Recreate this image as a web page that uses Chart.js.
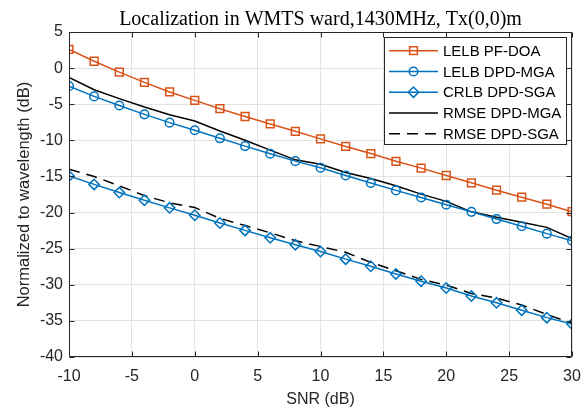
<!DOCTYPE html>
<html>
<head>
<meta charset="utf-8">
<script src="https://cdn.jsdelivr.net/npm/chart.js@4/dist/chart.umd.min.js"></script>
<style>
  html, body { margin: 0; padding: 0; background: #fff; }
  #wrap { width: 587px; height: 410px; position: relative; }
</style>
</head>
<body>
<div id="wrap"><canvas id="snrChart"></canvas></div>
<script>
// values, one point every 2 dB
const snrDb = [-10, -8, -6, -4, -2, 0, 2, 4, 6, 8, 10, 12, 14, 16, 18, 20, 22, 24, 26, 28, 30];
const lelbPfDoa = [2.6, 0.95, -0.55, -1.97, -3.3, -4.47, -5.62, -6.7, -7.73, -8.75, -9.8, -10.85, -11.83, -12.9, -13.85, -14.87, -15.88, -16.9, -17.87, -18.84, -19.88];
const lelbDpdMga = [-2.5, -3.92, -5.18, -6.4, -7.55, -8.6, -9.72, -10.8, -11.86, -12.88, -13.8, -14.86, -15.91, -16.93, -17.92, -18.91, -19.9, -20.9, -21.9, -22.92, -23.9];
const crlbDpdSga = [-14.95, -16.1, -17.23, -18.3, -19.35, -20.37, -21.45, -22.47, -23.5, -24.45, -25.4, -26.45, -27.43, -28.5, -29.5, -30.45, -31.55, -32.5, -33.52, -34.55, -35.42];
const rmseDpdMga = [-1.28, -3.0, -4.22, -5.38, -6.45, -7.32, -8.7, -9.98, -11.35, -12.7, -13.3, -14.45, -15.28, -16.28, -17.45, -18.45, -19.9, -20.65, -21.35, -22.05, -23.6];
const rmseDpdSga = [-14.0, -15.0, -16.3, -17.65, -18.65, -19.3, -20.8, -21.8, -22.8, -23.9, -24.7, -25.5, -26.9, -28.05, -29.25, -30.05, -31.2, -31.85, -32.8, -34.1, -35.35];

const xTicks = [-10, -5, 0, 5, 10, 15, 20, 25, 30];
const yTicks = [-40, -35, -30, -25, -20, -15, -10, -5, 0, 5];

const ORANGE = '#D95319';
const BLUE = '#0072BD';
const AXIS = '#262626';
const SANS = '"Liberation Sans", Arial, Helvetica, sans-serif';

const pts = vals => vals.map((v, i) => ({ x: snrDb[i], y: v }));

function series(label, vals, color, style, radius, dash) {
    return {
        label: label,
        data: pts(vals),
        borderColor: color,
        backgroundColor: color,
        borderWidth: 1.5,
        borderDash: dash || [],
        pointStyle: style || 'circle',
        pointRadius: radius,
        pointBorderWidth: 1.5,
        pointBorderColor: color,
        pointBackgroundColor: 'rgba(0,0,0,0)',
        tension: 0,
    };
}

// box around the axes plus inward ticks on all four sides
const frameTicks = {
    id: 'frameTicks',
    afterDatasetsDraw(chart) {
        const { ctx, chartArea: a, scales: { x, y } } = chart;
        const L = Math.round(a.left) + 0.5, R = Math.round(a.right) - 0.5;
        const T = Math.round(a.top) + 0.5, B = Math.round(a.bottom) - 0.5;
        ctx.save();
        ctx.strokeStyle = AXIS;
        ctx.lineWidth = 1;
        ctx.beginPath();
        ctx.rect(L, T, R - L, B - T);
        xTicks.forEach(v => {
            const px = Math.round(x.getPixelForValue(v)) + 0.5;
            ctx.moveTo(px, B); ctx.lineTo(px, B - 5);
            ctx.moveTo(px, T); ctx.lineTo(px, T + 5);
        });
        yTicks.forEach(v => {
            const py = Math.round(y.getPixelForValue(v)) + 0.5;
            ctx.moveTo(L, py); ctx.lineTo(L + 5, py);
            ctx.moveTo(R, py); ctx.lineTo(R - 5, py);
        });
        ctx.stroke();
        ctx.restore();
    }
};

// legend drawn inside the top right corner, like the original
const boxLegend = {
    id: 'boxLegend',
    afterDraw(chart) {
        const { ctx, chartArea: a } = chart;
        const w = 182, h = 107;
        const left = Math.round(a.right - 6 - w), top = Math.round(a.top + 5);
        ctx.save();
        ctx.fillStyle = '#fff';
        ctx.fillRect(left, top, w, h);
        ctx.strokeStyle = AXIS;
        ctx.lineWidth = 1;
        ctx.strokeRect(left + 0.5, top + 0.5, w, h);
        chart.data.datasets.forEach((ds, i) => {
            const yy = top + 13.7 + i * 20.75;
            const x0 = left + 5, x1 = left + 54;
            ctx.strokeStyle = ds.borderColor;
            ctx.lineWidth = ds.borderWidth;
            ctx.setLineDash(ds.borderDash);
            ctx.beginPath();
            ctx.moveTo(x0, yy);
            ctx.lineTo(x1, yy);
            ctx.stroke();
            ctx.setLineDash([]);
            if (ds.pointRadius > 0 && Chart.helpers && Chart.helpers.drawPoint) {
                ctx.fillStyle = 'rgba(0,0,0,0)';
                ctx.lineWidth = ds.pointBorderWidth;
                Chart.helpers.drawPoint(ctx, {
                    pointStyle: ds.pointStyle, rotation: 0,
                    radius: ds.pointRadius, borderWidth: ds.pointBorderWidth
                }, (x0 + x1) / 2, yy);
            }
            ctx.fillStyle = '#000';
            ctx.font = '15px ' + SANS;
            ctx.textBaseline = 'middle';
            ctx.textAlign = 'left';
            ctx.fillText(ds.label, left + 59, yy + 1);
        });
        ctx.restore();
    }
};

new Chart(document.getElementById('snrChart'), {
    type: 'line',
    data: {
        datasets: [
            series('LELB PF-DOA', lelbPfDoa, ORANGE, 'rect', 5.5),
            series('LELB DPD-MGA', lelbDpdMga, BLUE, 'circle', 4.3),
            series('CRLB DPD-SGA', crlbDpdSga, BLUE, 'rectRot', 5.2),
            series('RMSE DPD-MGA', rmseDpdMga, '#000', 'circle', 0),
            series('RMSE DPD-SGA', rmseDpdSga, '#000', 'circle', 0, [11, 7]),
        ]
    },
    options: {
        responsive: true,
        maintainAspectRatio: false,
        animation: false,
        layout: { padding: { left: 0, right: 15, top: 0, bottom: 0 } },
        plugins: {
            legend: { display: false },
            tooltip: { enabled: false },
            title: {
                display: true,
                fullSize: false,
                text: 'Localization in WMTS ward,1430MHz, Tx(0,0)m',
                color: '#000',
                font: { family: '"Liberation Serif", "Times New Roman", serif', size: 20, weight: 'normal' },
                padding: { top: 8, bottom: 0 },
            }
        },
        scales: {
            x: {
                type: 'linear',
                min: -10,
                max: 30,
                afterBuildTicks: s => { s.ticks = xTicks.map(v => ({ value: v })); },
                afterFit: s => { s.height = 53; s.paddingLeft = 0; s.paddingRight = 0; },
                grid: { color: '#e3e3e3', drawTicks: false },
                border: { display: false },
                ticks: { color: AXIS, padding: 10, font: { family: SANS, size: 16 }, maxRotation: 0 },
                title: {
                    display: true, text: 'SNR (dB)', color: AXIS,
                    font: { family: SANS, size: 16 }, padding: { top: 0, bottom: 1 }
                }
            },
            y: {
                type: 'linear',
                min: -40,
                max: 5,
                afterBuildTicks: s => { s.ticks = yTicks.map(v => ({ value: v })); },
                afterFit: s => { s.width = 69; s.paddingTop = 0; s.paddingBottom = 0; },
                grid: { color: '#e3e3e3', drawTicks: false },
                border: { display: false },
                ticks: { color: AXIS, padding: 6, font: { family: SANS, size: 16 } },
                title: {
                    display: true, text: 'Normalized to wavelength (dB)', color: AXIS,
                    font: { family: SANS, size: 16.5 }, padding: { top: 15, bottom: 0 }
                }
            }
        }
    },
    plugins: [frameTicks, boxLegend]
});
</script>
</body>
</html>
